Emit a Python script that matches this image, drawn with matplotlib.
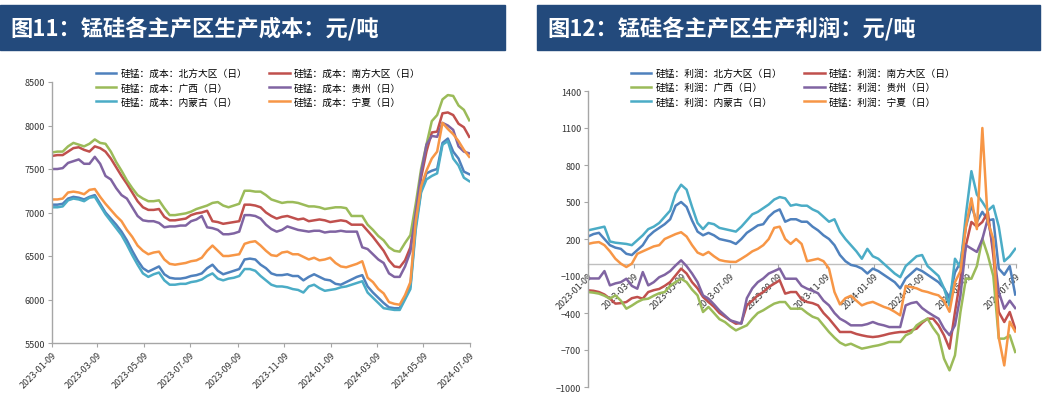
import matplotlib
matplotlib.use('Agg')
import matplotlib.pyplot as plt
import matplotlib.dates as mdates
from matplotlib.patches import Rectangle
import pandas as pd

plt.rcParams['font.family'] = ['Noto Sans CJK SC', 'DejaVu Sans']

# ---------------- data ----------------
dates = pd.date_range('2023-01-09', periods=79, freq='7D')
tick_dates = ['2023-01-09', '2023-03-09', '2023-05-09', '2023-07-09', '2023-09-09',
              '2023-11-09', '2024-01-09', '2024-03-09', '2024-05-09', '2024-07-09']

regions = ['北方大区', '南方大区', '广西', '贵州', '内蒙古', '宁夏']
colors = ['#4F81BD', '#C0504D', '#9BBB59', '#8064A2', '#4BACC6', '#F79646']

cost_north = [7090, 7090, 7100, 7160, 7180, 7170, 7150, 7180, 7200, 7100,
              7000, 6930, 6860, 6780, 6680, 6560, 6450, 6360, 6320, 6350,
              6380, 6290, 6250, 6240, 6240, 6250, 6270, 6280, 6300, 6360,
              6400, 6330, 6290, 6310, 6330, 6350, 6460, 6470, 6460, 6400,
              6360, 6300, 6280, 6280, 6290, 6270, 6270, 6220, 6260, 6290,
              6260, 6230, 6220, 6180, 6170, 6200, 6230, 6260, 6280, 6150,
              6080, 6020, 5960, 5910, 5900, 5900, 6020, 6150, 6850, 7250,
              7450, 7480, 7500, 7800, 7850, 7700, 7620, 7470, 7440]
cost_south = [7650, 7660, 7660, 7700, 7740, 7750, 7720, 7700, 7760, 7740,
              7700, 7620, 7520, 7420, 7330, 7230, 7130, 7060, 7030, 7030,
              7040, 6950, 6910, 6910, 6920, 6930, 6970, 6990, 7000, 7020,
              6900, 6890, 6870, 6880, 6890, 6900, 7090, 7090, 7080, 7060,
              7000, 6960, 6930, 6950, 6960, 6940, 6920, 6930, 6900, 6910,
              6920, 6910, 6890, 6900, 6910, 6900, 6860, 6860, 6860, 6790,
              6720, 6640, 6560, 6450, 6380, 6370, 6450, 6600, 7000, 7400,
              7700, 7920, 7930, 8140, 8150, 8120, 8020, 7980, 7870]
cost_gx = [7690, 7700, 7700, 7760, 7800, 7780, 7760, 7790, 7840, 7800,
           7790, 7700, 7580, 7480, 7370, 7280, 7200, 7160, 7130, 7130,
           7140, 7050, 6970, 6970, 6980, 6990, 7010, 7040, 7060, 7080,
           7110, 7120, 7080, 7060, 7080, 7100, 7250, 7250, 7240, 7240,
           7200, 7150, 7130, 7110, 7120, 7120, 7110, 7090, 7070, 7070,
           7060, 7040, 7050, 7060, 7060, 7050, 6960, 6960, 6960, 6860,
           6800, 6730, 6680, 6600, 6560, 6550, 6650, 6740, 7100, 7500,
           7780, 8050, 8120, 8300, 8350, 8340, 8230, 8180, 8060]
cost_gz = [7500, 7500, 7510, 7570, 7590, 7610, 7560, 7560, 7640, 7560,
           7420, 7380, 7280, 7200, 7160, 7060, 6960, 6910, 6900, 6900,
           6880, 6830, 6840, 6840, 6850, 6850, 6900, 6920, 6960, 6830,
           6820, 6800, 6750, 6750, 6760, 6780, 6970, 6970, 6960, 6930,
           6860, 6810, 6780, 6800, 6840, 6820, 6800, 6790, 6780, 6790,
           6790, 6770, 6780, 6780, 6790, 6780, 6780, 6780, 6600, 6580,
           6520, 6460, 6420, 6300, 6260, 6260, 6380, 6550, 7000, 7450,
           7780, 7880, 7870, 8030, 8000, 7950, 7760, 7700, 7680]
cost_nmg = [7060, 7060, 7070, 7140, 7160, 7150, 7130, 7170, 7180, 7080,
            6980, 6900, 6820, 6740, 6630, 6510, 6400, 6300, 6260, 6290,
            6310, 6220, 6170, 6170, 6180, 6180, 6200, 6210, 6230, 6270,
            6300, 6240, 6220, 6240, 6250, 6270, 6350, 6350, 6330, 6270,
            6220, 6170, 6150, 6150, 6140, 6120, 6110, 6080, 6150, 6170,
            6130, 6100, 6110, 6120, 6140, 6150, 6170, 6190, 6210, 6080,
            6020, 5960, 5900, 5890, 5880, 5880, 6000, 6120, 6800, 7230,
            7380, 7420, 7450, 7780, 7820, 7620, 7540, 7400, 7360]
cost_nx = [7150, 7150, 7160, 7230, 7240, 7230, 7210, 7260, 7270, 7180,
           7100, 7030, 6960, 6900, 6800, 6720, 6620, 6560, 6520, 6540,
           6550, 6460, 6410, 6400, 6410, 6420, 6440, 6450, 6480, 6560,
           6620, 6560, 6500, 6500, 6510, 6520, 6640, 6660, 6670, 6620,
           6560, 6510, 6500, 6540, 6550, 6520, 6520, 6490, 6460, 6480,
           6450, 6460, 6480, 6420, 6380, 6370, 6390, 6410, 6440, 6250,
           6200, 6120, 6070, 5970, 5950, 5940, 6050, 6200, 6900, 7300,
           7480, 7620, 7700, 8030, 7960, 7900, 7820, 7720, 7640]

profit_north = [220, 240, 250, 200, 150, 130, 120, 80, 70, 110,
                150, 220, 260, 290, 320, 360, 470, 500, 460, 350,
                260, 230, 250, 230, 200, 190, 180, 160, 200, 250,
                280, 310, 320, 380, 420, 440, 340, 360, 360, 340,
                340, 300, 270, 230, 200, 150, 70, 20, -10, -20,
                -40, -80, -40, -60, -90, -120, -150, -200, -120, -80,
                -40, -60, -90, -120, -150, -200, -280, -70, 10, 300,
                470, 340, 420, 350, 360, -40, -90, -20, -250]
profit_south = [-216, -220, -230, -250, -284, -324, -320, -311, -280, -270,
                -284, -230, -215, -205, -180, -149, -95, -40, -80, -150,
                -200, -270, -311, -350, -400, -430, -460, -487, -480, -338,
                -300, -257, -230, -190, -162, -135, -243, -230, -230, -290,
                -311, -320, -338, -400, -446, -500, -554, -554, -554, -570,
                -581, -590, -595, -590, -580, -568, -560, -554, -554, -540,
                -527, -480, -446, -446, -500, -581, -689, -392, -122, 149,
                338, 300, 338, 419, 68, -392, -473, -392, -527]
profit_gx = [-230, -235, -243, -260, -284, -257, -300, -365, -340, -311,
             -290, -284, -260, -240, -230, -180, -149, -122, -150, -210,
             -257, -392, -351, -400, -450, -473, -510, -541, -520, -500,
             -446, -400, -378, -350, -324, -311, -311, -365, -365, -365,
             -400, -430, -446, -500, -554, -600, -640, -662, -649, -670,
             -689, -680, -670, -662, -650, -635, -635, -635, -581, -560,
             -500, -470, -446, -520, -581, -770, -865, -743, -392, -122,
             -122, -20, 203, 68, -100, -608, -608, -581, -716]
profit_gz = [-120, -120, -120, -60, -176, -160, -150, -122, -180, -203,
             -68, -176, -150, -110, -90, -60, -14, 27, -20, -80,
             -150, -257, -284, -330, -380, -420, -460, -473, -487, -280,
             -200, -150, -120, -80, -60, -40, -122, -122, -122, -180,
             -203, -220, -240, -300, -338, -400, -446, -470, -500, -500,
             -500, -490, -473, -490, -500, -514, -514, -514, -338, -320,
             -311, -360, -392, -420, -446, -527, -580, -500, -257, 149,
             122, 95, 200, 365, 122, -230, -365, -300, -360]
profit_nmg = [270, 280, 290, 300, 180, 170, 165, 160, 150, 190,
              230, 280, 300, 330, 380, 430, 570, 640, 600, 460,
              330, 280, 330, 320, 290, 280, 270, 260, 300, 350,
              400, 420, 450, 480, 520, 540, 530, 470, 480, 470,
              470, 440, 420, 380, 340, 360, 260, 200, 150, 100,
              40, 120, 60, 40, 0, -40, -80, -110, -20, 20,
              60, 70, -20, -60, -100, -200, -340, 40, -30, 400,
              750, 560, 500, 430, 470, 300, 20, 60, 120]
profit_nx = [160, 170, 175, 150, 100, 40, 0, -27, 0, 80,
             100, 120, 140, 150, 200, 220, 240, 255, 220, 150,
             90, 70, 95, 60, 30, 20, 15, 14, 40, 68,
             100, 120, 150, 200, 290, 300, 200, 160, 200, 160,
             20, 30, 40, 20, -40, -230, -330, -280, -260, -300,
             -338, -320, -310, -330, -350, -365, -390, -419, -180, -190,
             -200, -220, -230, -245, -257, -300, -390, -150, -60, 300,
             530, 280, 1100, 340, 200, -600, -825, -470, -550]

cost_series = [cost_north, cost_south, cost_gx, cost_gz, cost_nmg, cost_nx]
profit_series = [profit_north, profit_south, profit_gx, profit_gz, profit_nmg, profit_nx]

W, H = 1061, 406
NAVY = '#234A7C'
AXC = '#A6A6A6'
TXT = '#333333'

fig = plt.figure(figsize=(W / 100, H / 100), dpi=100)


def px(x0, y0, w, h):
    return [x0 / W, 1 - (y0 + h) / H, w / W, h / H]


def header(x0, x1, text):
    fig.patches.append(Rectangle((x0 / W, 1 - 51 / H), (x1 - x0) / W, 45 / H,
                                 transform=fig.transFigure, color=NAVY, zorder=0))
    fig.text((x0 + 10) / W, 1 - 29 / H, text, color='white', fontsize=16,
             fontweight='bold', va='center', ha='left')


header(0, 505, '图11：锰硅各主产区生产成本：元/吨')
header(537, 1040, '图12：锰硅各主产区生产利润：元/吨')

tks = pd.to_datetime(tick_dates)
order = [0, 2, 4, 1, 3, 5]


def style(ax):
    for s in ['top', 'right']:
        ax.spines[s].set_visible(False)
    for s in ['left', 'bottom']:
        ax.spines[s].set_color(AXC)
        ax.spines[s].set_linewidth(1.0)
    ax.tick_params(axis='both', colors=AXC, labelcolor=TXT, labelsize=6.5,
                   length=3, width=0.8, direction='out', pad=2)
    ax.set_xlim(pd.Timestamp('2023-01-09'), pd.Timestamp('2024-07-09'))
    ax.set_xticks(tks)
    ax.xaxis.set_major_formatter(mdates.DateFormatter('%Y-%m-%d'))


def rotate(ax):
    for lab in ax.get_xticklabels():
        lab.set_rotation(45)
        lab.set_ha('right')
        lab.set_rotation_mode('anchor')


# ---- left: cost ----
ax1 = fig.add_axes(px(52, 83, 418, 261))
lines1 = []
for vals, c, r in zip(cost_series, colors, regions):
    l, = ax1.plot(dates, vals, color=c, lw=1.8, label='硅锰：成本：%s（日）' % r)
    lines1.append(l)
ax1.set_ylim(5500, 8500)
ax1.set_yticks([5500, 6000, 6500, 7000, 7500, 8000, 8500])
style(ax1)
rotate(ax1)
ax1.legend([lines1[i] for i in order], [lines1[i].get_label() for i in order],
           ncol=2, loc='upper left', bbox_to_anchor=(96 / W, 1 - 69 / H),
           bbox_transform=fig.transFigure, frameon=False, fontsize=7,
           handlelength=2.1, handletextpad=0.4, columnspacing=2.3,
           labelspacing=0.45, borderpad=0, borderaxespad=0)

# ---- right: profit ----
ax2 = fig.add_axes(px(588, 92, 428, 296))
lines2 = []
for vals, c, r in zip(profit_series, colors, regions):
    l, = ax2.plot(dates, vals, color=c, lw=1.8, label='硅锰：利润：%s（日）' % r)
    lines2.append(l)
ax2.set_ylim(-1000, 1400)
ax2.set_yticks(list(range(-1000, 1401, 300)))
ax2.spines['bottom'].set_position(('data', 0))
style(ax2)
ax2.spines['bottom'].set_color('#BFBFBF')
ax2.spines['bottom'].set_zorder(0)
rotate(ax2)
ax2.legend([lines2[i] for i in order], [lines2[i].get_label() for i in order],
           ncol=2, loc='upper left', bbox_to_anchor=(631 / W, 1 - 69 / H),
           bbox_transform=fig.transFigure, frameon=False, fontsize=7,
           handlelength=2.1, handletextpad=0.4, columnspacing=2.3,
           labelspacing=0.45, borderpad=0, borderaxespad=0)

fig.savefig('out.png', dpi=100)
